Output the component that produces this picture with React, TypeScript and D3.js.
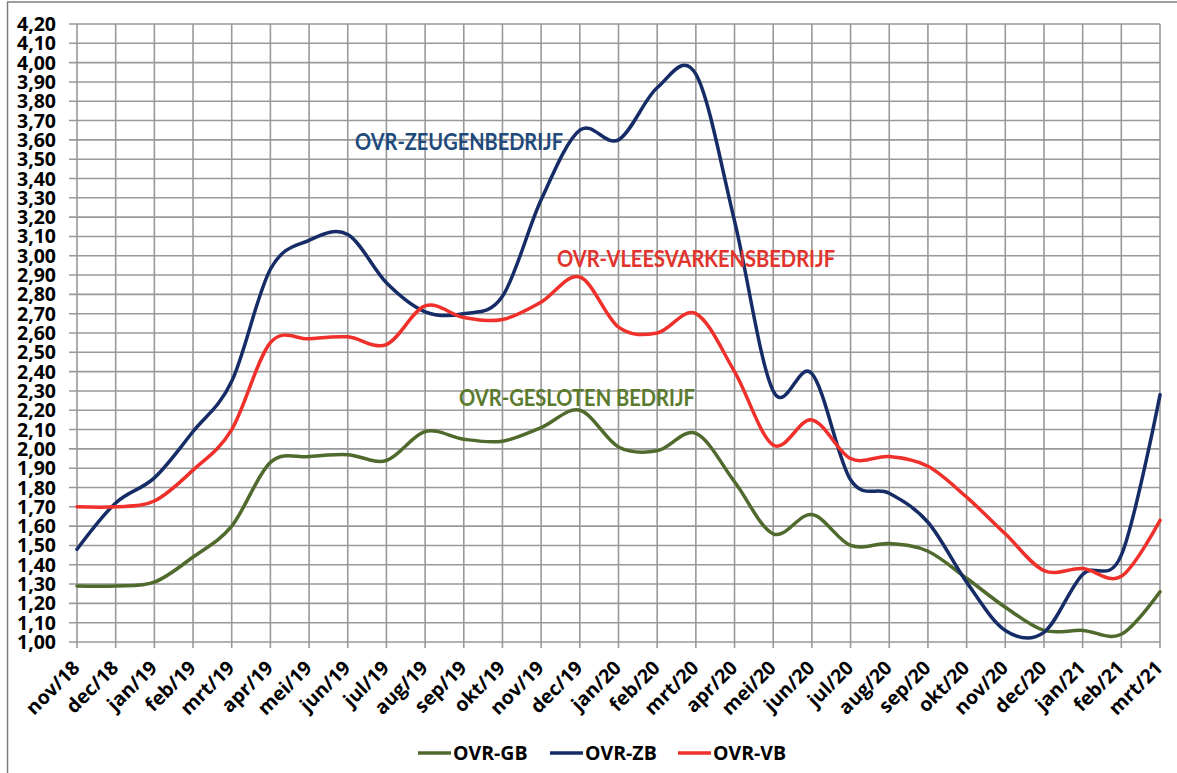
import React, { useEffect, useRef } from "react";
import * as d3 from "d3";

const months = [
  "nov/18", "dec/18", "jan/19", "feb/19", "mrt/19", "apr/19", "mei/19", "jun/19",
  "jul/19", "aug/19", "sep/19", "okt/19", "nov/19", "dec/19", "jan/20", "feb/20",
  "mrt/20", "apr/20", "mei/20", "jun/20", "jul/20", "aug/20", "sep/20", "okt/20",
  "nov/20", "dec/20", "jan/21", "feb/21", "mrt/21",
];

const ovrGB = [
  1.29, 1.29, 1.31, 1.44, 1.6, 1.93, 1.96, 1.97, 1.94, 2.09, 2.05, 2.04, 2.11, 2.2,
  2.01, 1.99, 2.08, 1.83, 1.56, 1.66, 1.5, 1.51, 1.47, 1.33, 1.18, 1.06, 1.06, 1.04, 1.26,
];
const ovrZB = [
  1.48, 1.72, 1.85, 2.09, 2.35, 2.93, 3.08, 3.11, 2.86, 2.71, 2.7, 2.79, 3.29, 3.65,
  3.6, 3.87, 3.94, 3.18, 2.3, 2.39, 1.84, 1.77, 1.62, 1.31, 1.06, 1.05, 1.35, 1.45, 2.28,
];
const ovrVB = [
  1.7, 1.7, 1.73, 1.89, 2.1, 2.55, 2.57, 2.58, 2.54, 2.74, 2.68, 2.67, 2.76, 2.89,
  2.63, 2.6, 2.7, 2.4, 2.02, 2.15, 1.95, 1.96, 1.91, 1.75, 1.56, 1.37, 1.38, 1.34, 1.63,
];

const yTicks = d3.range(0, 33).map((i) => +(1 + i * 0.1).toFixed(2));

const seriesNames = ["OVR-GB", "OVR-ZB", "OVR-VB"];
const seriesColors = ["#4f6a2c", "#162c67", "#f0302a"];
const annotations = [
  { text: "OVR-ZEUGENBEDRIJF", color: "#1f4a7c", value: 3.55, width: 208 },
  { text: "OVR-VLEESVARKENSBEDRIJF", color: "#e2332d", value: 2.94, width: 278 },
  { text: "OVR-GESLOTEN BEDRIJF", color: "#5a7a2e", value: 2.22, width: 236 },
];

const W = 1177;
const H = 773;
const TICK_FONT = "'Open Sans', Lato, sans-serif";
const ANNO_FONT = "Lato, 'Open Sans', sans-serif";

export default function App() {
  const ref = useRef<SVGSVGElement | null>(null);

  useEffect(() => {
    const svg = d3.select(ref.current);
    svg.selectAll("*").remove();

    const left = 77, right = 1160, top = 24, bottom = 642;
    const x = d3.scalePoint<string>().domain(months).range([left, right]);
    const y = d3.scaleLinear().domain([1, 4.2]).range([bottom, top]);

    svg.append("rect").attr("x", 0).attr("y", 0).attr("width", W).attr("height", H).attr("fill", "#fff");
    // outer frame
    svg.append("line").attr("x1", 7).attr("x2", W).attr("y1", 2).attr("y2", 2)
      .attr("stroke", "#7f7f7f").attr("stroke-width", 1.5);
    svg.append("line").attr("x1", 7.5).attr("x2", 7.5).attr("y1", 2).attr("y2", H)
      .attr("stroke", "#7f7f7f").attr("stroke-width", 1.5);

    const grid = svg.append("g");
    const gridColor = "#999999";
    yTicks.forEach((t) => {
      grid.append("line").attr("x1", left - 8).attr("x2", right)
        .attr("y1", y(t)).attr("y2", y(t)).attr("stroke", gridColor).attr("stroke-width", 1.6);
    });
    months.forEach((m) => {
      grid.append("line").attr("x1", x(m)!).attr("x2", x(m)!)
        .attr("y1", top).attr("y2", bottom + 6).attr("stroke", gridColor).attr("stroke-width", 1.6);
    });

    // y labels
    const yl = svg.append("g").attr("font-family", TICK_FONT).attr("font-weight", 700)
      .attr("font-size", 19.5).attr("fill", "#000");
    yTicks.forEach((t) => {
      yl.append("text").attr("x", 56).attr("y", y(t)).attr("dy", "0.36em")
        .attr("text-anchor", "end").text(d3.format(".2f")(t).replace(".", ","));
    });

    // x labels
    const xl = svg.append("g").attr("font-family", TICK_FONT).attr("font-weight", 700)
      .attr("font-size", 19.5).attr("fill", "#000");
    months.forEach((m) => {
      xl.append("text")
        .attr("transform", `translate(${x(m)! + 4},${bottom + 27}) rotate(-45)`)
        .attr("text-anchor", "end").text(m);
    });

    const line = d3.line<number>()
      .x((_, i) => x(months[i])!)
      .y((d) => y(d))
      .curve(d3.curveCardinal.tension(0));

    [ovrGB, ovrZB, ovrVB].forEach((s, i) => {
      svg.append("path").attr("d", line(s)!).attr("fill", "none")
        .attr("stroke", seriesColors[i]).attr("stroke-width", 3.5)
        .attr("stroke-linejoin", "round").attr("stroke-linecap", "round");
    });

    // annotations
    const an = svg.append("g").attr("font-family", ANNO_FONT).attr("font-weight", 700).attr("font-size", 23);
    const annoX = [355, 557, 459];
    annotations.forEach((a, i) => {
      an.append("text").attr("x", annoX[i]).attr("y", y(a.value))
        .attr("fill", a.color).attr("textLength", a.width).attr("lengthAdjust", "spacingAndGlyphs")
        .text(a.text);
    });

    // legend
    const lg = svg.append("g").attr("font-family", TICK_FONT).attr("font-weight", 700).attr("font-size", 19.5);
    const lx = [418, 550, 678];
    seriesNames.forEach((n, i) => {
      lg.append("line").attr("x1", lx[i]).attr("x2", lx[i] + 33).attr("y1", 753).attr("y2", 753)
        .attr("stroke", seriesColors[i]).attr("stroke-width", 3.5);
      lg.append("text").attr("x", lx[i] + 35).attr("y", 760).attr("fill", "#000").text(n);
    });
  }, []);

  return (
    <svg ref={ref} width={W} height={H}
      style={{ position: "absolute", left: 0, top: 0, display: "block" }} />
  );
}
